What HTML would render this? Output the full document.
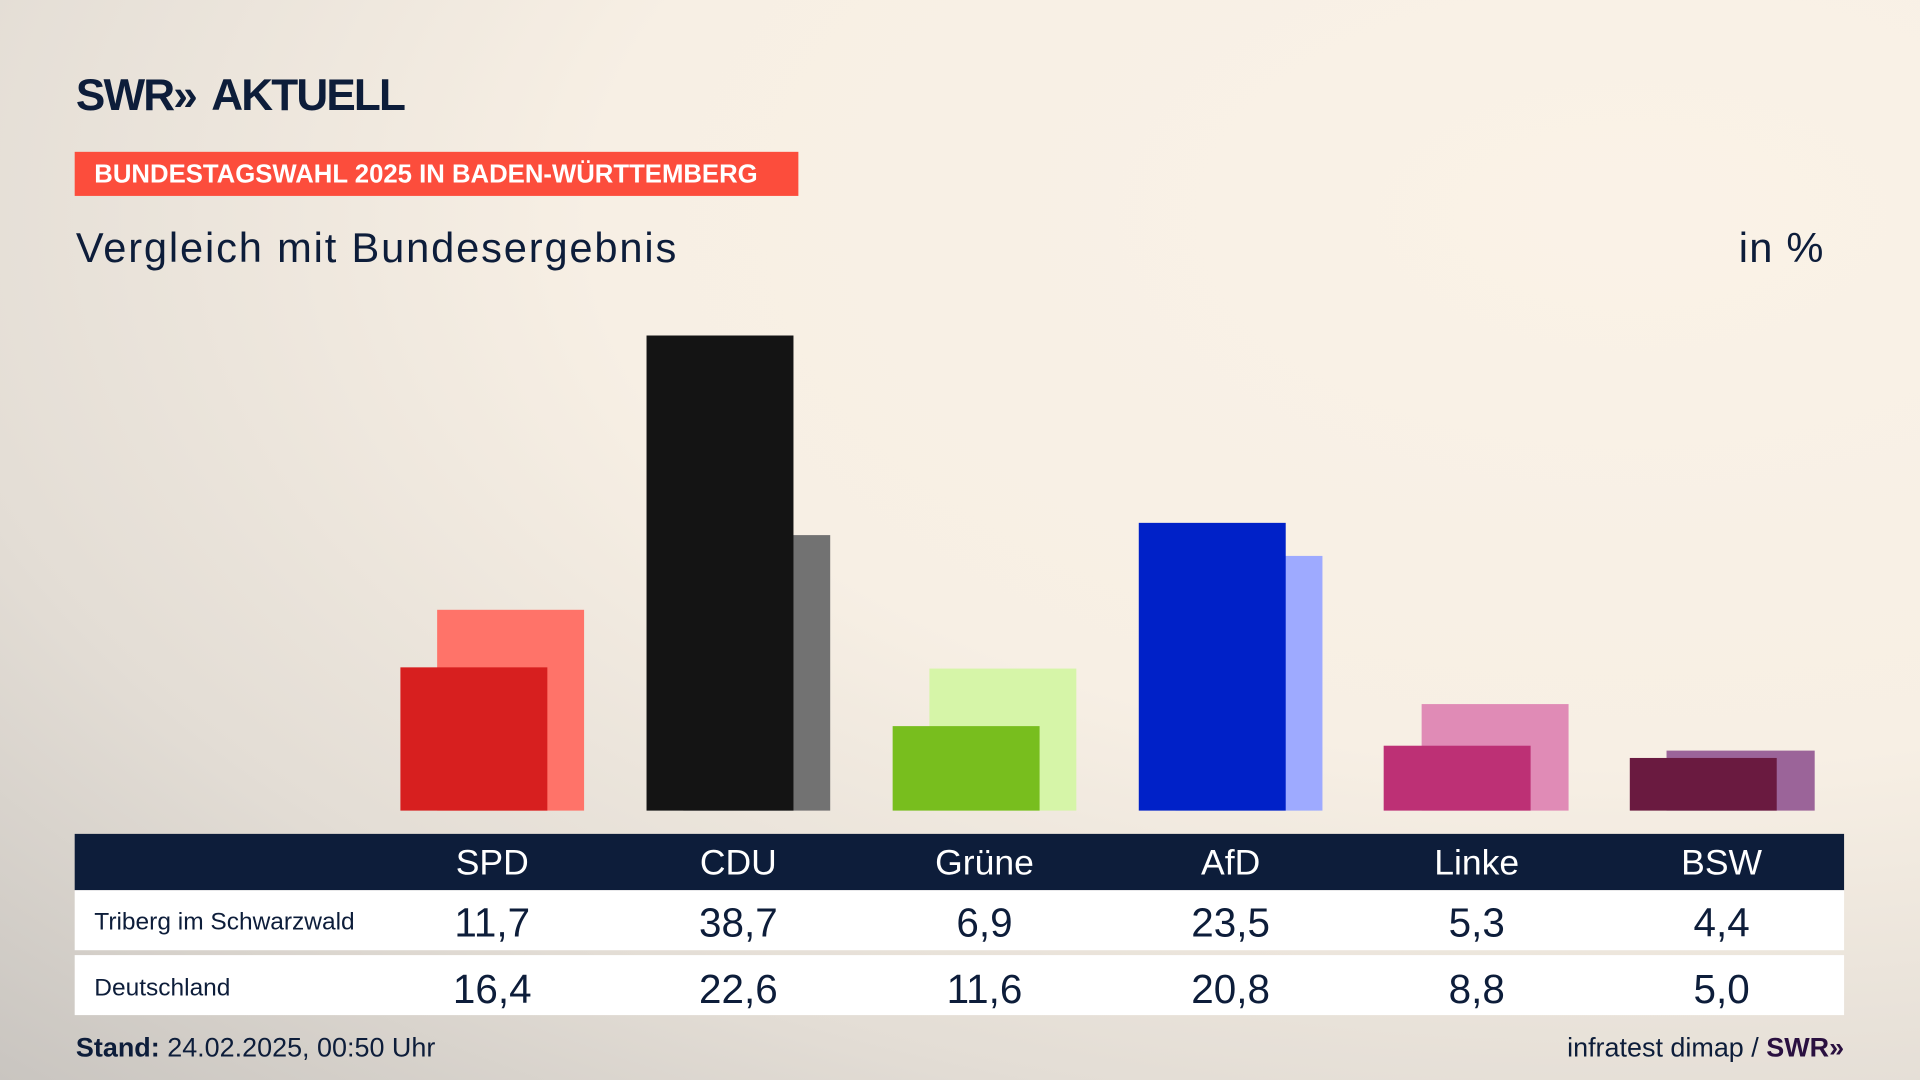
<!DOCTYPE html>
<html><head><meta charset="utf-8"><style>
html,body{margin:0;padding:0;width:1920px;height:1080px;overflow:hidden}
body{background:radial-gradient(ellipse at 85% 20%,#faf2e7 0%,#f7efe4 45%,#e3ddd5 75%,#c9c5c0 100%);font-family:"Liberation Sans",sans-serif;color:#0d1d3a}
#w{position:absolute;left:0;top:0;width:1568px;height:882px;transform:scale(1.2244898);transform-origin:0 0}
.a{position:absolute}
.bar{position:absolute}
.hd{position:absolute;top:681px;height:46px;left:61px;width:1445px;background:#0d1d3a}
.row{position:absolute;left:61px;width:1445px;height:49px;background:#fff}
.c{position:absolute;width:160px;text-align:center;transform:translateX(-80px)}
</style></head><body><div id="w">
<div class="a" style="left:62px;top:57px;font-size:36px;font-weight:bold;letter-spacing:-1.5px">SWR<span style="letter-spacing:-6px">»</span> &nbsp;AKTUELL</div>
<div class="a" style="left:61px;top:124px;width:591px;height:36px;background:#fc4d3c;color:#fff;font-weight:bold;font-size:21px;line-height:37px;padding-left:16px;box-sizing:border-box">BUNDESTAGSWAHL 2025 IN BADEN-WÜRTTEMBERG</div>
<div class="a" style="left:62px;top:184px;font-size:34px;letter-spacing:1.5px">Vergleich mit Bundesergebnis</div>
<div class="a" style="left:1420px;top:184px;font-size:34px;letter-spacing:1px">in %</div>

<div class="bar" style="left:357px;top:498px;width:120px;height:164px;background:#ff7369"></div>
<div class="bar" style="left:327px;top:545px;width:120px;height:117px;background:#d71f1f"></div>
<div class="bar" style="left:558px;top:437px;width:120px;height:225px;background:#727272"></div>
<div class="bar" style="left:528px;top:274px;width:120px;height:388px;background:#141414"></div>
<div class="bar" style="left:759px;top:546px;width:120px;height:116px;background:#d6f5a8"></div>
<div class="bar" style="left:729px;top:593px;width:120px;height:69px;background:#78be1e"></div>
<div class="bar" style="left:960px;top:454px;width:120px;height:208px;background:#9eaaff"></div>
<div class="bar" style="left:930px;top:427px;width:120px;height:235px;background:#0021c8"></div>
<div class="bar" style="left:1161px;top:575px;width:120px;height:87px;background:#e08bb6"></div>
<div class="bar" style="left:1130px;top:609px;width:120px;height:53px;background:#bd3075"></div>
<div class="bar" style="left:1361px;top:613px;width:121px;height:49px;background:#9b6499"></div>
<div class="bar" style="left:1331px;top:619px;width:120px;height:43px;background:#6a1a40"></div>

<div class="hd"></div>
<div class="row" style="top:727px"></div>
<div class="row" style="top:780px"></div>
<div class="a" style="left:0;top:689px;width:1568px;color:#fff;font-size:29px">
<div class="c" style="left:402px">SPD</div><div class="c" style="left:603px">CDU</div><div class="c" style="left:804px">Grüne</div><div class="c" style="left:1005px">AfD</div><div class="c" style="left:1206px">Linke</div><div class="c" style="left:1406px">BSW</div></div>
<div class="a" style="left:77px;top:742px;font-size:20px">Triberg im Schwarzwald</div>
<div class="a" style="left:0;top:735px;width:1568px;font-size:33px">
<div class="c" style="left:402px">11,7</div><div class="c" style="left:603px">38,7</div><div class="c" style="left:804px">6,9</div><div class="c" style="left:1005px">23,5</div><div class="c" style="left:1206px">5,3</div><div class="c" style="left:1406px">4,4</div></div>
<div class="a" style="left:77px;top:796px;font-size:20px">Deutschland</div>
<div class="a" style="left:0;top:789px;width:1568px;font-size:33px">
<div class="c" style="left:402px">16,4</div><div class="c" style="left:603px">22,6</div><div class="c" style="left:804px">11,6</div><div class="c" style="left:1005px">20,8</div><div class="c" style="left:1206px">8,8</div><div class="c" style="left:1406px">5,0</div></div>
<div class="a" style="left:62px;top:843px;font-size:22px"><b>Stand:</b> 24.02.2025, 00:50 Uhr</div>
<div class="a" style="right:62px;top:843px;font-size:22px">infratest dimap / <b style="color:#2a1040">SWR»</b></div>
</div></body></html>
